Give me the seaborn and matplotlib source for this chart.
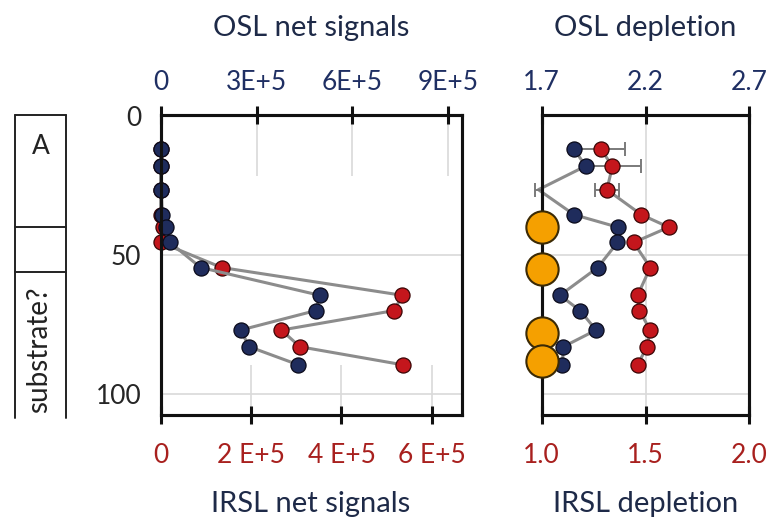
import matplotlib
matplotlib.use("Agg")
import matplotlib.pyplot as plt
import seaborn as sns
import numpy as np

# ---------------- data ----------------
depth = [12, 18, 26.5, 35.5, 40, 45.5, 54.5, 64.5, 70, 77, 83, 89.5]
osl_net = [0, 0, 2000, 5000, 16000, 29000, 125000, 498000, 485000, 250000, 277000, 431000]
irsl_net = [0, 0, 0, 0, 5000, 0, 135000, 535000, 516000, 267000, 308000, 536000]
osl_depl = [1.856, 1.912, 1.684, 1.856, 2.067, 2.065, 1.970, 1.788, 1.885, 1.962, 1.804, 1.800]
osl_depl_err = [0, 0, 0.016, 0, 0, 0, 0, 0, 0, 0, 0, 0]
irsl_depl = [1.285, 1.341, 1.314, 1.480, 1.612, 1.443, 1.523, 1.462, 1.470, 1.523, 1.507, 1.462]
irsl_depl_err = [0.118, 0.137, 0.058, 0, 0, 0, 0, 0, 0, 0, 0, 0]
dated_depth = [40, 55, 78, 88]
dated_irsl = [1.0, 1.0, 1.0, 1.0]

osl_net_ticks = [0, 3e5, 6e5, 9e5]
osl_net_labels = ["0", "3E+5", "6E+5", "9E+5"]
irsl_net_ticks = [0, 2e5, 4e5, 6e5]
irsl_net_labels = ["0", "2 E+5", "4 E+5", "6 E+5"]
osl_depl_ticks = [1.7, 2.2, 2.7]
osl_depl_labels = ["1.7", "2.2", "2.7"]
irsl_depl_ticks = [1.0, 1.5, 2.0]
irsl_depl_labels = ["1.0", "1.5", "2.0"]
depth_ticks = [0, 50, 100]
depth_labels = ["0", "50", "100"]

units = ["A", "", "substrate?"]
unit_bounds = [-0.36, 40, 56, 108.6]

# ---------------- style ----------------
sns.set_style("white")
plt.rcParams["font.family"] = ["Lato", "DejaVu Sans"]

NAVY = "#1f2c5c"
RED = "#c4161c"
ORANGE = "#f5a000"
GRAY = "#8c8c8c"
GRID = "#d9d9d9"
TITLE = "#1e2a48"
TOPLAB = "#1f2f63"
BOTLAB = "#a8201e"

W, H = 776, 528
fig = plt.figure(figsize=(W / 100, H / 100), dpi=100)


def fx(px):
    return px / W


def fy(py):
    return 1 - py / H


ylim = (107.55, -0.36)
ax_l = fig.add_axes([fx(160.7), fy(415), fx(461.7) - fx(160.7), fy(115) - fy(415)])
ax_r = fig.add_axes([fx(541.7), fy(415), fx(749.3) - fx(541.7), fy(115) - fy(415)])
ax_c = fig.add_axes([fx(15), fy(418), fx(66) - fx(15), fy(115) - fy(418)])

SP_LW = 2.2


def style_axis(ax, xt, xl, color, pad):
    ax.set_xticks(xt)
    ax.set_xticklabels(xl)
    ax.tick_params(axis="x", direction="inout", length=13, width=SP_LW,
                   colors="#111111", labelcolor=color, labelsize=19, pad=pad)
    for s in ax.spines.values():
        s.set_color("#111111")
        s.set_linewidth(SP_LW)
        s.set_zorder(6)


for ax, xlim, xt, xl in [(ax_l, (0, 6.66e5), irsl_net_ticks, irsl_net_labels),
                          (ax_r, (1.0, 2.0), irsl_depl_ticks, irsl_depl_labels)]:
    ax.set_xlim(*xlim)
    ax.set_ylim(*ylim)
    ax.set_yticks(depth_ticks)
    ax.grid(axis="y", color=GRID, lw=1.2)
    ax.set_axisbelow(True)
    style_axis(ax, xt, xl, BOTLAB, pad=14)
    ax.set_xlabel("")
    ax.set_ylabel("")

ax_l.set_yticklabels(depth_labels)
ax_l.tick_params(axis="y", length=0, labelsize=19, labelcolor="#262626", pad=14)
ax_r.tick_params(axis="y", length=0, labelleft=False)

# twin (top) axes
tl = ax_l.twiny()
tr = ax_r.twiny()
for ax, xlim, xt, xl in [(tl, (0, 9.42e5), osl_net_ticks, osl_net_labels),
                          (tr, (1.7, 2.7), osl_depl_ticks, osl_depl_labels)]:
    ax.set_xlim(*xlim)
    style_axis(ax, xt, xl, TOPLAB, pad=8)

# partial vertical grid on left panel
tl.vlines(osl_net_ticks[1:], -0.36, 21.5, color=GRID, lw=1.2, zorder=0)
ax_l.vlines(irsl_net_ticks[1:], 89.6, 107.55, color=GRID, lw=1.2, zorder=0)
# full vertical grid on right panel
ax_r.vlines([1.5], -0.36, 107.55, color=GRID, lw=1.2, zorder=0)

mk = dict(s=118, linewidth=0.9, zorder=4, legend=False, clip_on=False)
ln = dict(sort=False, estimator=None, lw=2.2, color=GRAY, zorder=3, legend=False)

# left panel: IRSL (bottom axis) then OSL (top axis)
sns.lineplot(x=irsl_net, y=depth, ax=ax_l, **ln)
sns.scatterplot(x=irsl_net, y=depth, ax=ax_l, color=RED, edgecolor="#3a0505", **mk)
sns.lineplot(x=osl_net, y=depth, ax=tl, **ln)
sns.scatterplot(x=osl_net, y=depth, ax=tl, color=NAVY, edgecolor="#0a0a1a", **mk)

# right panel
sns.lineplot(x=irsl_depl, y=depth, ax=ax_r, **ln)
ax_r.errorbar(irsl_depl, depth, xerr=irsl_depl_err, fmt="none", ecolor="#7a7a7a",
              elinewidth=1.4, capsize=5, capthick=1.4, zorder=3, clip_on=False)
sns.scatterplot(x=irsl_depl, y=depth, ax=ax_r, color=RED, edgecolor="#3a0505", **mk)
sns.lineplot(x=osl_depl, y=depth, ax=tr, **ln)
tr.errorbar(osl_depl, depth, xerr=osl_depl_err, fmt="none", ecolor="#7a7a7a",
            elinewidth=1.4, capsize=5, capthick=1.4, zorder=3, clip_on=False)
vis_x = [x for x in osl_depl if x >= 1.7]
vis_y = [d for x, d in zip(osl_depl, depth) if x >= 1.7]
sns.scatterplot(x=vis_x, y=vis_y, ax=tr, color=NAVY, edgecolor="#0a0a1a", **mk)
sns.scatterplot(x=[1.7 + (v - 1.0) for v in dated_irsl], y=dated_depth, ax=tr,
                color=ORANGE, edgecolor="#3b2a05", s=540, linewidth=1.5,
                zorder=7, legend=False, clip_on=False)

for ax in (ax_l, ax_r, tl, tr):
    for l in ax.lines:
        l.set_clip_on(False)
    ax.set_xlabel("")
    ax.set_ylabel("")
ax_l.set_ylim(*ylim)
ax_r.set_ylim(*ylim)

# stratigraphic column
ax_c.set_xlim(0, 1)
ax_c.set_ylim(108.6, -0.36)
ax_c.axis("off")
ax_c.plot([0, 0], [unit_bounds[0], unit_bounds[-1]], color="#222222", lw=1.4, clip_on=False)
ax_c.plot([1, 1], [unit_bounds[0], unit_bounds[-1]], color="#222222", lw=1.4, clip_on=False)
for b in unit_bounds[:-1]:
    ax_c.plot([0, 1], [b, b], color="#222222", lw=1.4, clip_on=False)
ax_c.text(0.5, 11, units[0], ha="center", va="center", fontsize=19, color="#222222")
ax_c.text(0.48, 84, units[2], ha="center", va="center", rotation=90, fontsize=20,
          color="#222222")

# titles
fig.text(fx(311), fy(36), "OSL net signals", ha="center", va="baseline", fontsize=21, color=TITLE)
fig.text(fx(645.5), fy(36), "OSL depletion", ha="center", va="baseline", fontsize=21, color=TITLE)
fig.text(fx(311), fy(512), "IRSL net signals", ha="center", va="baseline", fontsize=21, color=TITLE)
fig.text(fx(645.5), fy(512), "IRSL depletion", ha="center", va="baseline", fontsize=21, color=TITLE)

fig.savefig("out.png", dpi=100)
